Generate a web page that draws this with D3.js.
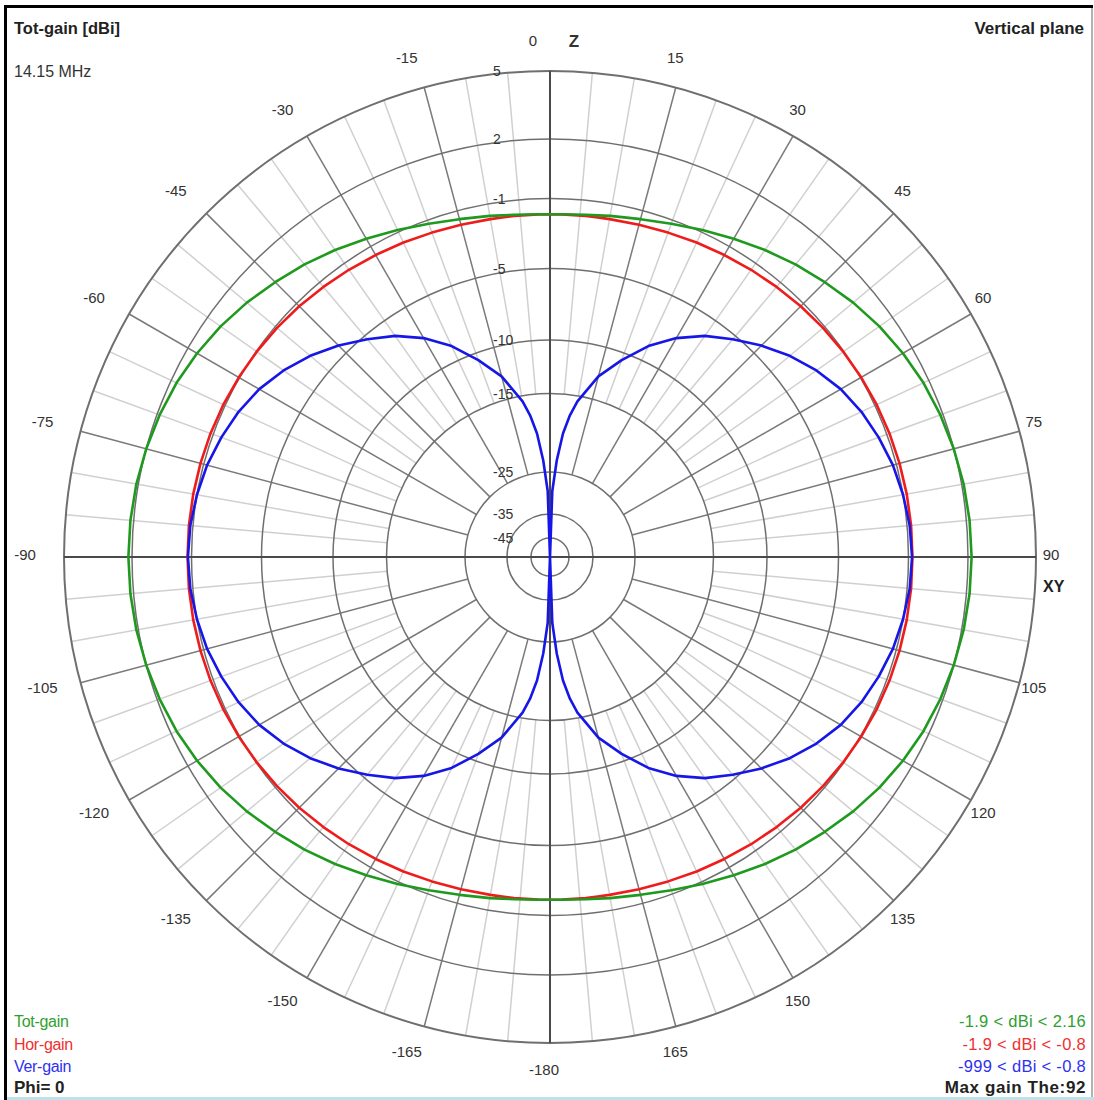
<!DOCTYPE html>
<html>
<head>
<meta charset="utf-8">
<script src="https://cdn.jsdelivr.net/npm/d3@7"></script>
<style>
body { margin: 0; background: #fff; }
svg text { font-family: "Liberation Sans", Arial, sans-serif; }
</style>
</head>
<body>
<div id="chart"></div>
<script>
// elevation angle theta (deg from zenith), right half; left half is the mirror
var thetaDeg = [0, 2, 4, 6, 8, 10, 15, 20, 25, 30, 35, 40, 45, 50, 55, 60, 65, 70, 75, 80, 85, 90,
	95, 100, 105, 110, 115, 120, 125, 130, 135, 140, 145, 150, 155, 160, 165, 170, 172, 174, 176, 178, 180];

// gains in dBi
var totGain = [-1.9, -1.89, -1.87, -1.82, -1.77, -1.69, -1.5, -1.22, -0.88, -0.55, -0.18, 0.18, 0.52, 0.88, 1.2, 1.47, 1.7, 1.87, 2.0, 2.09, 2.14, 2.16,
	2.14, 2.09, 2.0, 1.87, 1.7, 1.47, 1.2, 0.88, 0.52, 0.18, -0.18, -0.55, -0.88, -1.22, -1.5, -1.69, -1.77, -1.82, -1.87, -1.89, -1.9];
var horGain = [-1.9, -1.9, -1.9, -1.89, -1.89, -1.88, -1.83, -1.76, -1.66, -1.56, -1.45, -1.34, -1.22, -1.12, -1.03, -0.96, -0.9, -0.86, -0.83, -0.81, -0.8, -0.8,
	-0.8, -0.81, -0.83, -0.86, -0.9, -0.96, -1.03, -1.12, -1.22, -1.34, -1.45, -1.56, -1.66, -1.76, -1.83, -1.88, -1.89, -1.89, -1.9, -1.9, -1.9];
var verGain = [-999, -29.5, -23.5, -20.0, -17.6, -15.7, -12.8, -10.7, -8.9, -7.5, -6.3, -5.3, -4.4, -3.6, -2.9, -2.3, -1.85, -1.5, -1.2, -1.0, -0.87, -0.82,
	-0.87, -1.0, -1.2, -1.5, -1.85, -2.3, -2.9, -3.6, -4.4, -5.3, -6.3, -7.5, -8.9, -10.7, -12.8, -15.7, -17.6, -20.0, -23.5, -29.5, -999];

var ringValues = [5, 2, -1, -5, -10, -15, -25, -35, -45];
var angleTicks = [0, 15, 30, 45, 60, 75, 90, 105, 120, 135, 150, 165, 180, -165, -150, -135, -120, -105, -90, -75, -60, -45, -30, -15];
var angleLabels = ['0', '15', '30', '45', '60', '75', '90', '105', '120', '135', '150', '165', '-180', '-165', '-150', '-135', '-120', '-105', '-90', '-75', '-60', '-45', '-30', '-15'];

var width = 1094, height = 1100;
var cx = 550, cy = 557;

var svg = d3.select('#chart').append('svg').attr('width', width).attr('height', height);

// log-like radial scale of the plot
var rScale = d3.scaleLinear()
	.domain([-55, -45, -35, -25, -15, -10, -5, -1, 2, 5])
	.range([0, 19, 43, 85, 163.5, 217, 288.5, 358.5, 418, 486])
	.clamp(true);

var rMax = rScale(5);
var rad = function(a) { return a * Math.PI / 180; };

var g = svg.append('g').attr('transform', 'translate(' + cx + ',' + cy + ')');

// spokes every 5 deg, heavy ones every 15
var spokes = d3.range(-175, 181, 5).filter(function(a) { return a % 90 !== 0; });
g.selectAll('line.spoke')
	.data(spokes)
	.enter().append('line')
	.attr('class', 'spoke')
	.attr('x1', function(a) { return (a % 15 === 0 ? rScale(-25) : rScale(-15)) * Math.sin(rad(a)); })
	.attr('y1', function(a) { return -(a % 15 === 0 ? rScale(-25) : rScale(-15)) * Math.cos(rad(a)); })
	.attr('x2', function(a) { return rMax * Math.sin(rad(a)); })
	.attr('y2', function(a) { return -rMax * Math.cos(rad(a)); })
	.attr('stroke', function(a) { return a % 15 === 0 ? '#7a7a7a' : '#d0d0d0'; })
	.attr('stroke-width', 1.5);

// rings
g.selectAll('circle.ring')
	.data(ringValues)
	.enter().append('circle')
	.attr('class', 'ring')
	.attr('r', function(d) { return rScale(d); })
	.attr('fill', 'none')
	.attr('stroke', '#6f6f6f')
	.attr('stroke-width', function(d) { return d === 5 ? 2 : 1.5; });

// main axes
g.append('line').attr('x1', 0).attr('y1', -rMax).attr('x2', 0).attr('y2', rMax)
	.attr('stroke', '#4a4a4a').attr('stroke-width', 2);
g.append('line').attr('x1', -rMax).attr('y1', 0).attr('x2', rMax).attr('y2', 0)
	.attr('stroke', '#4a4a4a').attr('stroke-width', 2);

// ring labels
g.selectAll('text.ring-label')
	.data(ringValues)
	.enter().append('text')
	.attr('class', 'ring-label')
	.attr('x', -57)
	.attr('y', function(d) { return -rScale(d) + 5; })
	.attr('font-size', 14)
	.attr('fill', '#333')
	.text(function(d) { return d; });

// angle labels
g.selectAll('text.angle-label')
	.data(angleTicks)
	.enter().append('text')
	.attr('class', 'angle-label')
	.attr('x', function(a) {
		var s = Math.sin(rad(a));
		var dx = a === 0 ? -17 : (a > 0 ? -6 : -10 - 8 * Math.abs(s));
		return 507 * s + dx;
	})
	.attr('y', function(a) { return -507 * Math.cos(rad(a)) - 2 - 7.5 * Math.cos(rad(a)); })
	.attr('dy', '0.35em')
	.attr('text-anchor', 'middle')
	.attr('font-size', 15)
	.attr('fill', '#333')
	.text(function(a, i) { return angleLabels[i]; });

// pattern curves
function loopPoints(vals) {
	var right = thetaDeg.map(function(t, i) { return [t, vals[i]]; });
	var left = [];
	for (var i = thetaDeg.length - 2; i >= 1; i--) left.push([360 - thetaDeg[i], vals[i]]);
	return right.concat(left);
}

var radial = d3.lineRadial()
	.angle(function(d) { return rad(d[0]); })
	.radius(function(d) { return rScale(d[1]); })
	.curve(d3.curveLinearClosed);

var series = [
	{ name: 'hor', vals: horGain, color: '#ee1c1c' },
	{ name: 'tot', vals: totGain, color: '#1f9a1f' },
	{ name: 'ver', vals: verGain, color: '#1616e6' }
];

g.selectAll('path.pattern')
	.data(series)
	.enter().append('path')
	.attr('class', 'pattern')
	.attr('d', function(s) { return radial(loopPoints(s.vals)); })
	.attr('fill', 'none')
	.attr('stroke', function(s) { return s.color; })
	.attr('stroke-width', 2.6)
	.attr('stroke-linejoin', 'round');

// axis names
svg.append('text').attr('x', 574).attr('y', 47).attr('text-anchor', 'middle')
	.attr('font-size', 17).attr('font-weight', 'bold').attr('fill', '#333').text('Z');
svg.append('text').attr('x', 1043).attr('y', 592)
	.attr('font-size', 16).attr('font-weight', 'bold').attr('fill', '#222').text('XY');

// header texts
svg.append('text').attr('x', 14).attr('y', 34)
	.attr('font-size', 16.5).attr('font-weight', 'bold').attr('fill', '#222').text('Tot-gain [dBi]');
svg.append('text').attr('x', 14).attr('y', 77)
	.attr('font-size', 16).attr('fill', '#333').text('14.15 MHz');
svg.append('text').attr('x', 1084).attr('y', 34).attr('text-anchor', 'end')
	.attr('font-size', 17).attr('font-weight', 'bold').attr('fill', '#222').text('Vertical plane');

// legend
var legendLeft = [
	{ t: 'Tot-gain', c: '#2fa02f', y: 1027 },
	{ t: 'Hor-gain', c: '#f03030', y: 1050 },
	{ t: 'Ver-gain', c: '#3030f0', y: 1072 }
];
var legendRight = [
	{ t: '-1.9 < dBi < 2.16', c: '#2fa02f', y: 1027 },
	{ t: '-1.9 < dBi < -0.8', c: '#f03030', y: 1050 },
	{ t: '-999 < dBi < -0.8', c: '#3030f0', y: 1072 }
];
svg.selectAll('text.leg-l').data(legendLeft).enter().append('text')
	.attr('class', 'leg-l').attr('x', 14).attr('y', function(d) { return d.y; })
	.attr('font-size', 16).attr('letter-spacing', -0.3).attr('fill', function(d) { return d.c; })
	.text(function(d) { return d.t; });
svg.selectAll('text.leg-r').data(legendRight).enter().append('text')
	.attr('class', 'leg-r').attr('x', 1086).attr('y', function(d) { return d.y; })
	.attr('text-anchor', 'end')
	.attr('font-size', 16.5).attr('letter-spacing', 0.3).attr('fill', function(d) { return d.c; })
	.text(function(d) { return d.t; });
svg.append('text').attr('x', 14).attr('y', 1093)
	.attr('font-size', 17).attr('font-weight', 'bold').attr('fill', '#222').text('Phi= 0');
svg.append('text').attr('x', 1086).attr('y', 1093).attr('text-anchor', 'end')
	.attr('font-size', 17).attr('font-weight', 'bold').attr('letter-spacing', 0.6).attr('fill', '#222').text('Max gain The:92');

// window frame
svg.append('line').attr('x1', 4).attr('y1', 6.5).attr('x2', 1093).attr('y2', 6.5)
	.attr('stroke', '#000').attr('stroke-width', 3);
svg.append('line').attr('x1', 5.5).attr('y1', 5).attr('x2', 5.5).attr('y2', 1100)
	.attr('stroke', '#000').attr('stroke-width', 3);
svg.append('line').attr('x1', 1092).attr('y1', 8).attr('x2', 1092).attr('y2', 1097)
	.attr('stroke', '#9a9a9a').attr('stroke-width', 1.5);
svg.append('line').attr('x1', 7).attr('y1', 1098.5).attr('x2', 1094).attr('y2', 1098.5)
	.attr('stroke', '#bfe2ea').attr('stroke-width', 3);
</script>
</body>
</html>
